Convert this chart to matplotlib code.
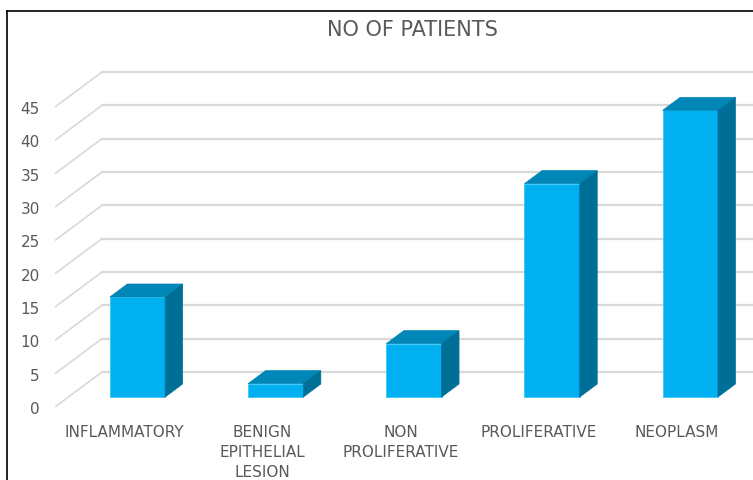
import numpy as np
import matplotlib.pyplot as plt
from matplotlib.patches import Polygon
from matplotlib.lines import Line2D

# data
categories = ["INFLAMMATORY", "BENIGN\nEPITHELIAL\nLESION", "NON\nPROLIFERATIVE",
              "PROLIFERATIVE", "NEOPLASM"]
patients = [15, 2, 8, 32, 43]
yticks = np.arange(0, 50, 5)

plt.rcParams['font.family'] = ['Liberation Sans Narrow', 'DejaVu Sans']
txt = "#595959"
grid = "#D9D9D9"
front_c, top_c, side_c = "#00B0F0", "#0087B8", "#006F98"

W, H = 753, 481
fig = plt.figure(figsize=(W / 100, H / 100), dpi=100)
# axes in pixel terms: front floor edge left at x=55, value 0 at y=408
ax = fig.add_axes([55 / W, (H - 408) / H, (W - 55) / W, (408 - 60) / H])
px_cat, px_val = 138.2, 6.667
ax.set_xlim(-0.5, -0.5 + (W - 55) / px_cat)
ax.set_ylim(0, (408 - 60) / px_val)

# oblique depth of the floor, in data units
DX, DY = 47 / px_cat, 35 / px_val
d_front, d_back = 10 / 35, 23 / 35

# side wall diagonals and back wall gridlines
for v in yticks:
    ax.plot([-0.5, -0.5 + DX], [v, v + DY], color=grid, lw=1.2, zorder=1)
    ax.plot([-0.5 + DX, 10], [v + DY, v + DY], color=grid, lw=1.6, zorder=1)

x = np.arange(len(categories))
bw = 0.4
base = d_front * DY
xf = x + d_front * DX
ddx, ddy = (d_back - d_front) * DX, (d_back - d_front) * DY
bars = ax.bar(xf, patients, width=bw, bottom=base, color=front_c,
              edgecolor="#3CC8F8", linewidth=0.6, zorder=3)
for xc, v in zip(xf, patients):
    xl, xr, top = xc - bw / 2, xc + bw / 2, base + v
    ax.add_patch(Polygon([(xl, top), (xr, top), (xr + ddx, top + ddy), (xl + ddx, top + ddy)],
                         closed=True, facecolor=top_c, edgecolor=top_c, lw=0.5, zorder=3))
    ax.add_patch(Polygon([(xr, base), (xr + ddx, base + ddy), (xr + ddx, top + ddy), (xr, top)],
                         closed=True, facecolor=side_c, edgecolor=side_c, lw=0.5, zorder=3))

ax.set_yticks(yticks)
ax.set_yticklabels([str(t) for t in yticks])
ax.set_xticks(x)
ax.set_xticklabels(categories, linespacing=1.45)
ax.tick_params(axis='y', length=0, pad=11, labelsize=11, labelcolor=txt)
ax.tick_params(axis='x', length=0, pad=12, labelsize=11, labelcolor=txt)
for s in ax.spines.values():
    s.set_visible(False)
ax.patch.set_alpha(0)

fig.text(412 / W, 1 - 30 / H, "NO OF PATIENTS", ha='center', va='center',
         fontsize=15, color=txt)

# chart border (left and top edges visible)
fig.add_artist(Line2D([7 / W, 7 / W], [0, 1 - 12 / H], color='black', lw=1.2))
fig.add_artist(Line2D([7 / W, 1], [1 - 12 / H, 1 - 12 / H], color='black', lw=1.2))

plt.savefig("out.png", dpi=100)
